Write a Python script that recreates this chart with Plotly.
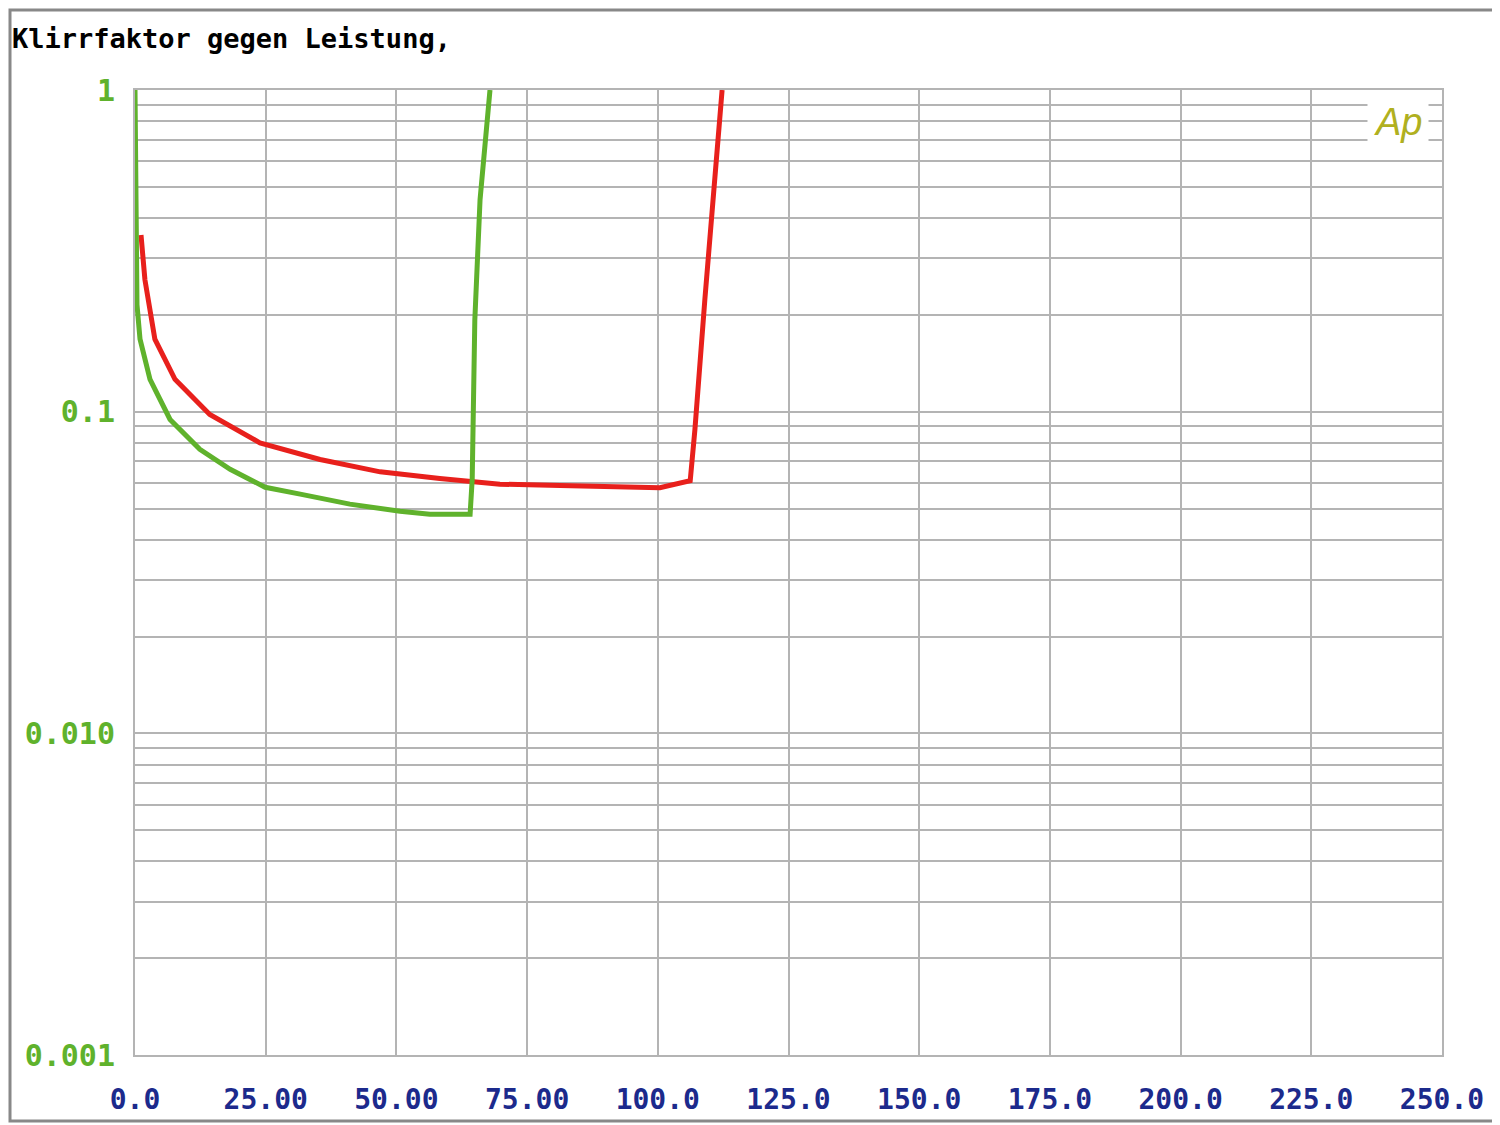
import plotly.graph_objects as go

green_x = [0.0, 0.38, 0.96, 2.87, 6.7, 12.4, 18.2, 24.9, 31.6, 41.1, 50.7, 56.4, 64.1, 64.5, 65.0, 66.0, 67.9]
green_y = [1.0, 0.215, 0.168, 0.126, 0.0946, 0.0764, 0.0662, 0.0582, 0.0554, 0.0516, 0.049, 0.048, 0.048, 0.0617, 0.193, 0.456, 1.0]
red_x = [1.15, 1.9, 3.8, 7.65, 14.3, 23.9, 35.4, 46.9, 58.3, 69.8, 81.3, 100.4, 106.2, 107.1, 109.0, 110.9, 112.3]
red_y = [0.354, 0.257, 0.168, 0.126, 0.098, 0.080, 0.071, 0.065, 0.062, 0.0595, 0.059, 0.058, 0.061, 0.088, 0.223, 0.526, 1.0]
x_ticks = [0, 25, 50, 75, 100, 125, 150, 175, 200, 225, 250]
x_labels = ["<b>0.0</b>", "<b>25.00</b>", "<b>50.00</b>", "<b>75.00</b>", "<b>100.0</b>", "<b>125.0</b>",
            "<b>150.0</b>", "<b>175.0</b>", "<b>200.0</b>", "<b>225.0</b>", "<b>250.0</b>"]
y_ticks = [1, 0.1, 0.01, 0.001]
y_labels = ["<b>1</b>", "<b>0.1</b>", "<b>0.010</b>", "<b>0.001</b>"]

mono = "DejaVu Sans Mono"
PW, PH = 1307, 965
fig = go.Figure()
fig.add_trace(go.Scatter(x=red_x, y=red_y, mode="lines", line=dict(color="#e8201c", width=5), showlegend=False))
fig.add_trace(go.Scatter(x=green_x, y=green_y, mode="lines", line=dict(color="#5fb22c", width=5), showlegend=False))

fig.update_layout(
    width=1500, height=1125,
    margin=dict(l=127, r=66, t=82, b=78),
    paper_bgcolor="white", plot_bgcolor="white",
    xaxis=dict(range=[0, 250], tickvals=x_ticks, ticktext=x_labels, showgrid=True,
               gridcolor="#b4b4b4", gridwidth=2, zeroline=False, showline=True,
               linecolor="#b4b4b4", linewidth=2, mirror=True,
               tickfont=dict(family=mono, size=28, color="#1c2a8c"), ticks="", ticklabelstandoff=18),
    yaxis=dict(type="log", range=[-3, 0], tickvals=y_ticks, ticktext=y_labels,
               showgrid=True, gridcolor="#b4b4b4", gridwidth=2, zeroline=False,
               showline=True, linecolor="#b4b4b4", linewidth=2, mirror=True,
               minor=dict(showgrid=True, gridcolor="#b4b4b4", gridwidth=2, dtick="D1"),
               tickfont=dict(family=mono, size=30, color="#5fb22c"), ticks="", ticklabelstandoff=12),
    annotations=[
        dict(text="<b>Klirrfaktor gegen Leistung,</b>", xref="paper", yref="paper", x=0, y=1,
             xanchor="left", yanchor="middle", showarrow=False, xshift=-125, yshift=52,
             font=dict(family=mono, size=27, color="black")),
        dict(text="<i>Ap</i>", xref="paper", yref="paper", x=(1398 - 135) / PW, y=1 - 32 / PH,
             xanchor="center", yanchor="middle", borderpad=6,
             showarrow=False, font=dict(family="Liberation Sans", size=38, color="#b0b020"), bgcolor="white"),
    ],
    shapes=[dict(type="rect", xref="paper", yref="paper", x0=-125 / PW, x1=1 + 55 / PW,
                 y0=-66 / PH, y1=1 + 80 / PH, line=dict(color="#888888", width=3))],
)
fig.write_html("out.html")
